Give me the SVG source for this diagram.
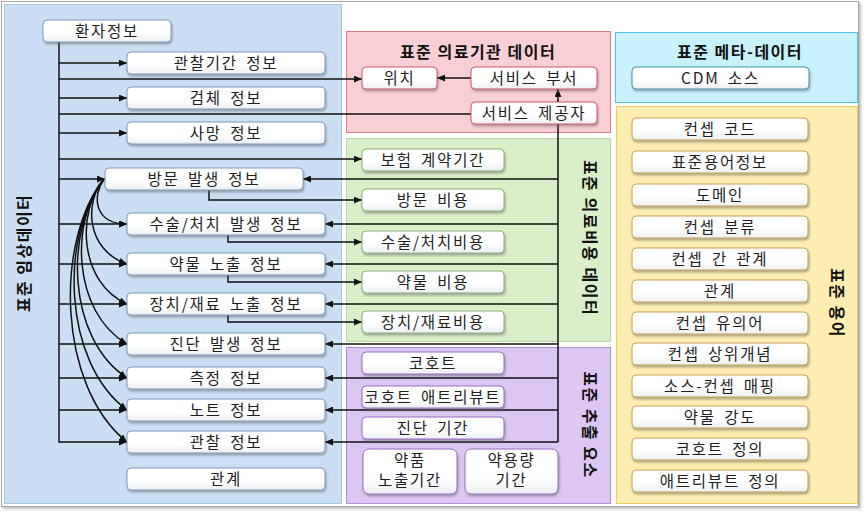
<svg xmlns="http://www.w3.org/2000/svg" width="868" height="516" viewBox="0 0 868 516">
<defs>
<linearGradient id="gw" x1="0" y1="0" x2="0" y2="1"><stop offset="0" stop-color="#ffffff"/><stop offset="0.6" stop-color="#ffffff"/><stop offset="1" stop-color="#eceff3"/></linearGradient>
<filter id="sh" x="-10%" y="-20%" width="120%" height="160%"><feDropShadow dx="1" dy="2" stdDeviation="1" flood-color="#555" flood-opacity="0.45"/></filter>
<filter id="fsh" x="-2%" y="-2%" width="104%" height="104%"><feDropShadow dx="2" dy="2" stdDeviation="1.5" flood-color="#777" flood-opacity="0.5"/></filter>
<marker id="ah" markerUnits="userSpaceOnUse" markerWidth="8" markerHeight="7" refX="8" refY="3.5" orient="auto"><path d="M0,0 L8,3.5 L0,7 z" fill="#111"/></marker>
<style>
.t{font-family:"Noto Sans CJK KR","Noto Sans",sans-serif;font-size:15.5px;letter-spacing:1.8px;word-spacing:3px;fill:#1e1e1e;text-anchor:middle}
.h{font-family:"Noto Sans CJK KR","Noto Sans",sans-serif;font-size:16px;font-weight:bold;letter-spacing:1.5px;fill:#111;text-anchor:middle}
.n rect{fill:url(#gw);stroke-width:1;filter:url(#sh)}
.nb rect{stroke:#7f9bbd}
.np rect{stroke:#d0586a}
.ng rect{stroke:#8fae7a}
.nv rect{stroke:#9a6cc8}
.nc rect{stroke:#4a8fb0}
.ny rect{stroke:#c9a050}
.c path,.c line,.c polyline{fill:none;stroke:#111;stroke-width:1.5}
.a{marker-end:url(#ah)}
</style>
</defs>
<rect x="1.5" y="1.5" width="857" height="505" fill="#fff" stroke="#a6a6a6" filter="url(#fsh)"/>
<g id="panels">
<rect id="p-clinical" x="4.5" y="4.5" width="337" height="499" fill="#cbdff4" stroke="#a9c6e6"/>
<rect id="p-facility" x="346.5" y="31.5" width="264" height="101" fill="#f8cfd4" stroke="#e27a86"/>
<rect id="p-cost" x="346.5" y="138.5" width="264" height="203" fill="#d9efc9" stroke="#b6da9b"/>
<rect id="p-extract" x="346.5" y="347.5" width="264" height="156" fill="#dbc7f1" stroke="#b38ed8"/>
<rect id="p-meta" x="615.5" y="32.5" width="242" height="70" fill="#c8f1fc" stroke="#4fc4e8"/>
<rect id="p-vocab" x="616.5" y="106.5" width="241" height="397" fill="#fdedb1" stroke="#f1c75e"/>
</g>
<g id="panel-labels">
<text class="h" transform="translate(24,253) rotate(-90)" x="0" y="5.5">표준 임상데이터</text>
<text class="h" x="478" y="58">표준 의료기관 데이터</text>
<text class="h" transform="translate(589,238) rotate(90)" x="0" y="5.5">표준 의료비용 데이터</text>
<text class="h" transform="translate(589,425) rotate(90)" x="0" y="5.5">표준 추출 요소</text>
<text class="h" x="740" y="58">표준 메타-데이터</text>
<text class="h" transform="translate(836,303) rotate(90)" x="0" y="5.5">표준 용어</text>
</g>
<g id="connectors" class="c">
<line x1="59" y1="42" x2="59" y2="442.75"/>
<line class="a" x1="59" y1="63" x2="127" y2="63"/>
<line class="a" x1="59" y1="79" x2="362" y2="79"/>
<line class="a" x1="59" y1="98" x2="127" y2="98"/>
<line x1="59" y1="114" x2="471" y2="114"/>
<line class="a" x1="59" y1="133" x2="127" y2="133"/>
<line class="a" x1="59" y1="159" x2="362" y2="159"/>
<line class="a" x1="59" y1="179" x2="105" y2="179"/>
<line class="a" x1="59" y1="224" x2="127" y2="224"/>
<line class="a" x1="59" y1="264" x2="127" y2="264"/>
<line class="a" x1="59" y1="304" x2="127" y2="304"/>
<line class="a" x1="59" y1="344" x2="127" y2="344"/>
<line class="a" x1="59" y1="378" x2="127" y2="378"/>
<line class="a" x1="59" y1="410" x2="127" y2="410"/>
<line class="a" x1="59" y1="442" x2="127" y2="442"/>
<path class="a" d="M104,179 C92,196 94,224 127,224"/>
<path class="a" d="M104,179 C84,202 86,250 127,264"/>
<path class="a" d="M104,179 C77,210 78,282 127,304"/>
<path class="a" d="M104,179 C70,220 72,312 127,344"/>
<path class="a" d="M104,179 C65,228 66,338 127,378"/>
<path class="a" d="M104,179 C60,234 62,362 127,410"/>
<path class="a" d="M104,179 C55,240 57,386 127,442"/>
<line class="a" x1="471" y1="78" x2="437" y2="78"/>
<line x1="558" y1="442" x2="558" y2="100"/>
<line class="a" x1="558" y1="102" x2="558" y2="89"/>
<line class="a" x1="558" y1="179" x2="303" y2="179"/>
<line class="a" x1="558" y1="224" x2="325" y2="224"/>
<line class="a" x1="558" y1="264" x2="325" y2="264"/>
<line class="a" x1="558" y1="304" x2="325" y2="304"/>
<line class="a" x1="558" y1="344" x2="325" y2="344"/>
<line class="a" x1="558" y1="378" x2="325" y2="378"/>
<line class="a" x1="558" y1="410" x2="325" y2="410"/>
<line class="a" x1="558" y1="442" x2="325" y2="442"/>
<polyline class="a" points="209,190 209,200 362,200"/>
<polyline class="a" points="228,235 228,242 362,242"/>
<polyline class="a" points="228,275 228,282 362,282"/>
<polyline class="a" points="228,315 228,322 362,322"/>
</g>
<g id="n-patient" class="n nb"><rect x="43" y="20" width="128" height="22" rx="4"/><text class="t" x="107" y="36.5">환자정보</text></g>
<g id="n-obsperiod" class="n nb"><rect x="127" y="52" width="198" height="22" rx="4"/><text class="t" x="226" y="68.5">관찰기간 정보</text></g>
<g id="n-specimen" class="n nb"><rect x="127" y="87" width="198" height="22" rx="4"/><text class="t" x="226" y="103.5">검체 정보</text></g>
<g id="n-death" class="n nb"><rect x="127" y="122" width="198" height="22" rx="4"/><text class="t" x="226" y="138.5">사망 정보</text></g>
<g id="n-visit" class="n nb"><rect x="105" y="168" width="198" height="22" rx="4"/><text class="t" x="204" y="184.5">방문 발생 정보</text></g>
<g id="n-procedure" class="n nb"><rect x="127" y="213" width="198" height="22" rx="4"/><text class="t" x="226" y="229.5">수술/처치 발생 정보</text></g>
<g id="n-drug" class="n nb"><rect x="127" y="253" width="198" height="22" rx="4"/><text class="t" x="226" y="269.5">약물 노출 정보</text></g>
<g id="n-device" class="n nb"><rect x="127" y="293" width="198" height="22" rx="4"/><text class="t" x="226" y="309.5">장치/재료 노출 정보</text></g>
<g id="n-condition" class="n nb"><rect x="127" y="333" width="198" height="22" rx="4"/><text class="t" x="226" y="349.5">진단 발생 정보</text></g>
<g id="n-measurement" class="n nb"><rect x="127" y="367" width="198" height="22" rx="4"/><text class="t" x="226" y="383.5">측정 정보</text></g>
<g id="n-note" class="n nb"><rect x="127" y="399" width="198" height="22" rx="4"/><text class="t" x="226" y="415.5">노트 정보</text></g>
<g id="n-observation" class="n nb"><rect x="127" y="431" width="198" height="22" rx="4"/><text class="t" x="226" y="447.5">관찰 정보</text></g>
<g id="n-relation" class="n nb"><rect x="127" y="468" width="198" height="22" rx="4"/><text class="t" x="226" y="484.5">관계</text></g>
<g id="n-location" class="n np"><rect x="362" y="67" width="75" height="22" rx="4"/><text class="t" x="399.5" y="83.5">위치</text></g>
<g id="n-caresite" class="n np"><rect x="471" y="67" width="126" height="22" rx="4"/><text class="t" x="534" y="83.5">서비스 부서</text></g>
<g id="n-provider" class="n np"><rect x="471" y="102" width="126" height="22" rx="4"/><text class="t" x="534" y="118.5">서비스 제공자</text></g>
<g id="n-payer" class="n ng"><rect x="362" y="149" width="142" height="22" rx="4"/><text class="t" x="433" y="165.5">보험 계약기간</text></g>
<g id="n-visitcost" class="n ng"><rect x="362" y="189" width="142" height="22" rx="4"/><text class="t" x="433" y="205.5">방문 비용</text></g>
<g id="n-proccost" class="n ng"><rect x="362" y="231" width="142" height="22" rx="4"/><text class="t" x="433" y="247.5">수술/처치비용</text></g>
<g id="n-drugcost" class="n ng"><rect x="362" y="271" width="142" height="22" rx="4"/><text class="t" x="433" y="287.5">약물 비용</text></g>
<g id="n-devcost" class="n ng"><rect x="362" y="311" width="142" height="22" rx="4"/><text class="t" x="433" y="327.5">장치/재료비용</text></g>
<g id="n-cohort" class="n nv"><rect x="362" y="352" width="142" height="22" rx="4"/><text class="t" x="433" y="368.5">코호트</text></g>
<g id="n-cohortattr" class="n nv"><rect x="362" y="386" width="142" height="22" rx="4"/><text class="t" x="433" y="402.5">코호트 애트리뷰트</text></g>
<g id="n-condera" class="n nv"><rect x="362" y="417" width="142" height="22" rx="4"/><text class="t" x="433" y="433.5">진단 기간</text></g>
<g id="n-drugera" class="n nv"><rect x="363" y="449" width="94" height="45" rx="6"/><text class="t" x="410" y="466">약품</text><text class="t" x="410" y="486">노출기간</text></g>
<g id="n-doseera" class="n nv"><rect x="465" y="449" width="93" height="45" rx="6"/><text class="t" x="511.5" y="466">약용량</text><text class="t" x="511.5" y="486">기간</text></g>
<g id="n-cdmsource" class="n nc"><rect x="632" y="67" width="177" height="22" rx="4"/><text class="t" x="720.5" y="83.5">CDM 소스</text></g>
<g id="n-concept" class="n ny"><rect x="632" y="118" width="176" height="22" rx="4"/><text class="t" x="720" y="134.5">컨셉 코드</text></g>
<g id="n-vocabulary" class="n ny"><rect x="632" y="151" width="176" height="22" rx="4"/><text class="t" x="720" y="167.5">표준용어정보</text></g>
<g id="n-domain" class="n ny"><rect x="632" y="184" width="176" height="22" rx="4"/><text class="t" x="720" y="200.5">도메인</text></g>
<g id="n-conceptclass" class="n ny"><rect x="632" y="216" width="176" height="22" rx="4"/><text class="t" x="720" y="232.5">컨셉 분류</text></g>
<g id="n-conceptrel" class="n ny"><rect x="632" y="248" width="176" height="22" rx="4"/><text class="t" x="720" y="264.5">컨셉 간 관계</text></g>
<g id="n-relationship" class="n ny"><rect x="632" y="280" width="176" height="22" rx="4"/><text class="t" x="720" y="296.5">관계</text></g>
<g id="n-synonym" class="n ny"><rect x="632" y="312" width="176" height="22" rx="4"/><text class="t" x="720" y="328.5">컨셉 유의어</text></g>
<g id="n-ancestor" class="n ny"><rect x="632" y="343" width="176" height="22" rx="4"/><text class="t" x="720" y="359.5">컨셉 상위개념</text></g>
<g id="n-s2c" class="n ny"><rect x="632" y="375" width="176" height="22" rx="4"/><text class="t" x="720" y="391.5">소스-컨셉 매핑</text></g>
<g id="n-strength" class="n ny"><rect x="632" y="406" width="176" height="22" rx="4"/><text class="t" x="720" y="422.5">약물 강도</text></g>
<g id="n-cohortdef" class="n ny"><rect x="632" y="438" width="176" height="22" rx="4"/><text class="t" x="720" y="454.5">코호트 정의</text></g>
<g id="n-attrdef" class="n ny"><rect x="632" y="470" width="176" height="22" rx="4"/><text class="t" x="720" y="486.5">애트리뷰트 정의</text></g>
</svg>
